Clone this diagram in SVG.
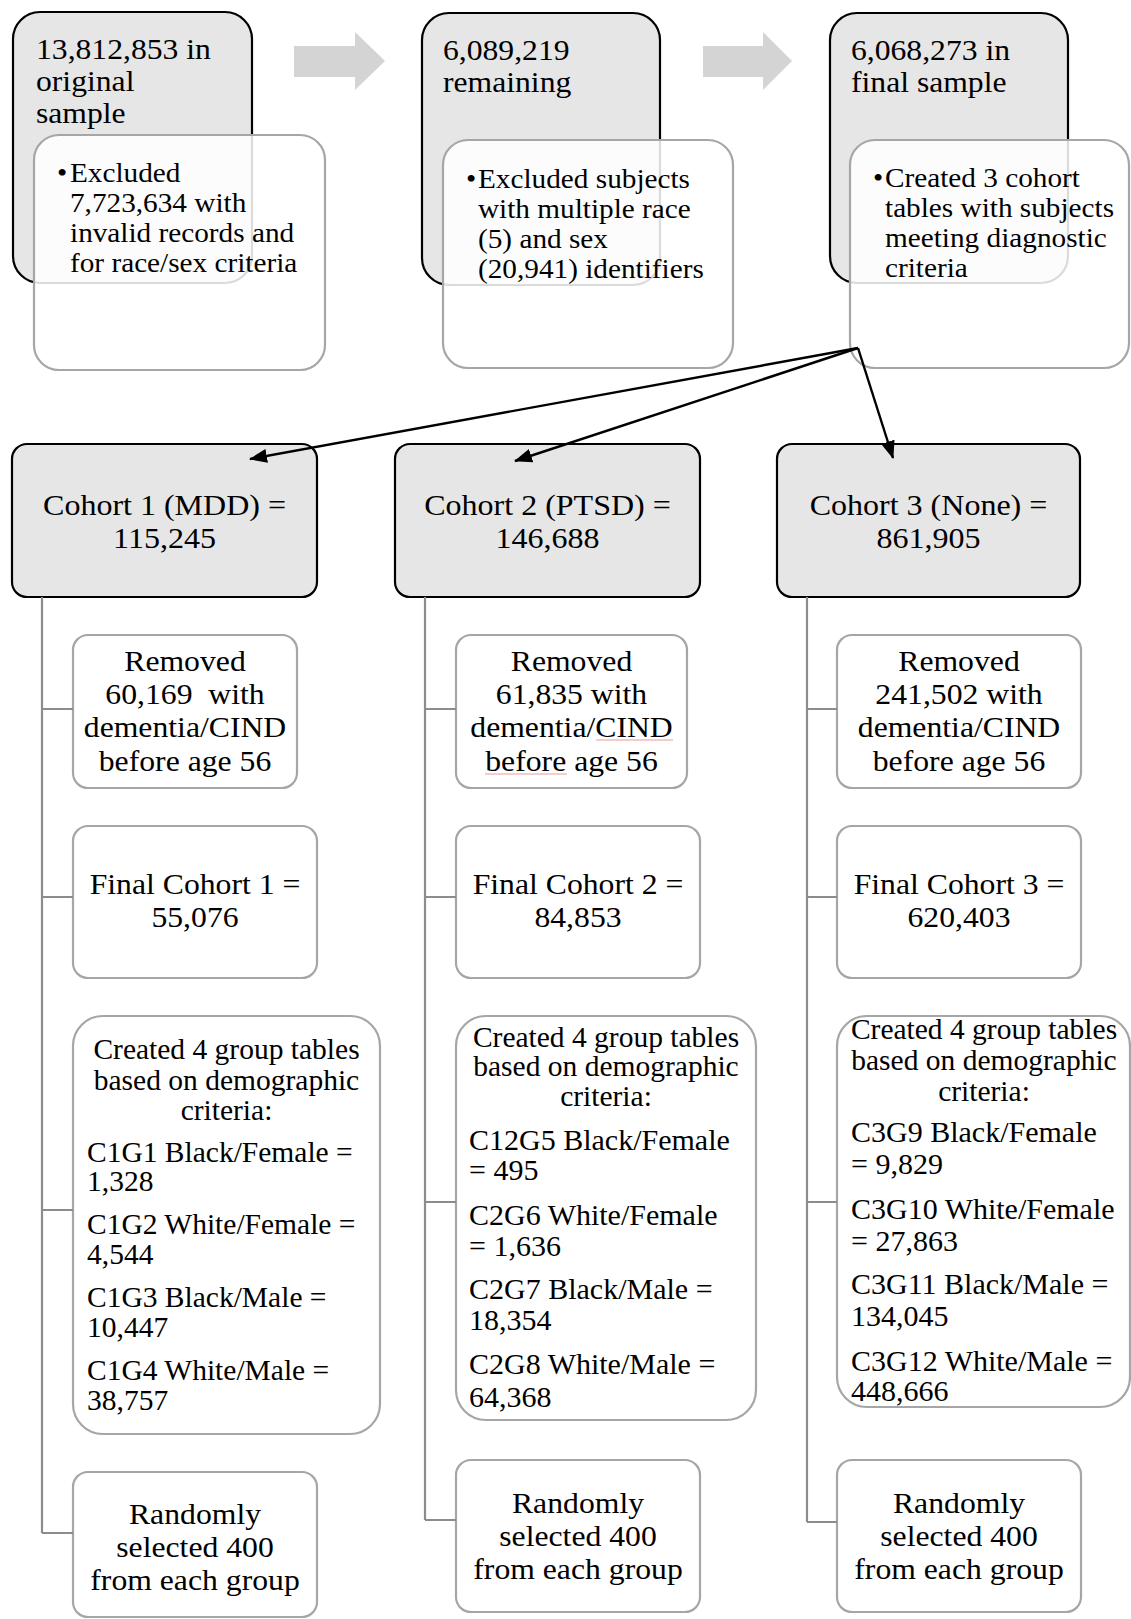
<svg xmlns="http://www.w3.org/2000/svg" width="1131" height="1619" viewBox="0 0 1131 1619">
<defs>
<style>
.t{font-family:"Liberation Serif","Times New Roman",serif;fill:#000}
.top{font-size:30px}
.bul{font-size:28px}
.coh{font-size:30px}
.box{font-size:29.5px}
.grp{font-size:29.5px}
.g30{font-size:30px}
.gray{fill:#e6e6e6;stroke:#000;stroke-width:2.2}
.over{fill:#fff;fill-opacity:0.86;stroke:#a6a6a6;stroke-width:2.2}
.child{fill:#fff;stroke:#a6a6a6;stroke-width:2.2}
.tree{fill:none;stroke:#8c8c8c;stroke-width:2.2}
.blk{stroke:#000;stroke-width:2.4;fill:none}
.block{fill:#d4d4d4}
.sq{stroke:#e99a9a;stroke-width:1.2;fill:none}
</style>
<marker id="ah" markerUnits="userSpaceOnUse" markerWidth="18" markerHeight="14" refX="17" refY="7" orient="auto">
<path d="M0,0 L18,7 L0,14 z" fill="#000"/>
</marker>
</defs>
<rect width="1131" height="1619" fill="#fff"/>

<g id="node-original">
<rect class="gray" x="13" y="12" width="239" height="271" rx="27"/>
<text class="t top" transform="matrix(1.055 0 0 1 36 0)"><tspan x="0" y="59">13,812,853 in</tspan><tspan x="0" y="91">original</tspan><tspan x="0" y="123">sample</tspan></text>
</g>
<g id="node-excluded1">
<rect class="over" x="34" y="135" width="291" height="235" rx="25"/>
<text class="t bul" transform="matrix(1.045 0 0 1 57 0)"><tspan x="0" y="182">•</tspan></text>
<text class="t bul" transform="matrix(1.045 0 0 1 70 0)"><tspan x="0" y="182">Excluded</tspan><tspan x="0" y="212">7,723,634 with</tspan><tspan x="0" y="242">invalid records and</tspan><tspan x="0" y="272">for race/sex criteria</tspan></text>
</g>

<g id="node-remaining">
<rect class="gray" x="422" y="13" width="238" height="272" rx="27"/>
<text class="t top" transform="matrix(1.055 0 0 1 443 0)"><tspan x="0" y="60">6,089,219</tspan><tspan x="0" y="92">remaining</tspan></text>
</g>
<g id="node-excluded2">
<rect class="over" x="443" y="140" width="290" height="228" rx="25"/>
<text class="t bul" transform="matrix(1.045 0 0 1 466 0)"><tspan x="0" y="188">•</tspan></text>
<text class="t bul" transform="matrix(1.045 0 0 1 478 0)"><tspan x="0" y="188">Excluded subjects</tspan><tspan x="0" y="218">with multiple race</tspan><tspan x="0" y="248">(5) and sex</tspan><tspan x="0" y="278">(20,941) identifiers</tspan></text>
</g>

<g id="node-final">
<rect class="gray" x="830" y="13" width="238" height="270" rx="27"/>
<text class="t top" transform="matrix(1.055 0 0 1 851 0)"><tspan x="0" y="60">6,068,273 in</tspan><tspan x="0" y="92">final sample</tspan></text>
</g>
<g id="node-created3">
<rect class="over" x="850" y="140" width="279" height="228" rx="25"/>
<text class="t bul" transform="matrix(1.045 0 0 1 873 0)"><tspan x="0" y="187">•</tspan></text>
<text class="t bul" transform="matrix(1.045 0 0 1 885 0)"><tspan x="0" y="187">Created 3 cohort</tspan><tspan x="0" y="217">tables with subjects</tspan><tspan x="0" y="247">meeting diagnostic</tspan><tspan x="0" y="277">criteria</tspan></text>
</g>

<g id="node-cohort1">
<rect class="gray" x="12" y="444" width="305" height="153" rx="15"/>
<text class="t coh" text-anchor="middle" transform="matrix(1.067 0 0 1 164.5 0)"><tspan x="0" y="515">Cohort 1 (MDD) =</tspan><tspan x="0" y="548">115,245</tspan></text>
</g>
<g id="node-cohort2">
<rect class="gray" x="395" y="444" width="305" height="153" rx="15"/>
<text class="t coh" text-anchor="middle" transform="matrix(1.067 0 0 1 547.5 0)"><tspan x="0" y="515">Cohort 2 (PTSD) =</tspan><tspan x="0" y="548">146,688</tspan></text>
</g>
<g id="node-cohort3">
<rect class="gray" x="777" y="444" width="303" height="153" rx="15"/>
<text class="t coh" text-anchor="middle" transform="matrix(1.067 0 0 1 928.5 0)"><tspan x="0" y="515">Cohort 3 (None) =</tspan><tspan x="0" y="548">861,905</tspan></text>
</g>

<g id="node-removed1">
<rect class="child" x="73" y="635" width="224" height="153" rx="15"/>
<text class="t box" text-anchor="middle" transform="matrix(1.075 0 0 1 185 0)"><tspan x="0" y="671">Removed</tspan><tspan x="0" y="704">60,169&#160; with</tspan><tspan x="0" y="737">dementia/CIND</tspan><tspan x="0" y="771">before age 56</tspan></text>
</g>
<g id="node-removed2">
<rect class="child" x="456" y="635" width="231" height="153" rx="15"/>
<text class="t box" text-anchor="middle" transform="matrix(1.075 0 0 1 571.5 0)"><tspan x="0" y="671">Removed</tspan><tspan x="0" y="704">61,835 with</tspan><tspan x="0" y="737">dementia/CIND</tspan><tspan x="0" y="771">before age 56</tspan></text>
<path class="sq" d="M596,740 H673 M485,774 H567"/>
</g>
<g id="node-removed3">
<rect class="child" x="837" y="635" width="244" height="153" rx="15"/>
<text class="t box" text-anchor="middle" transform="matrix(1.075 0 0 1 959 0)"><tspan x="0" y="671">Removed</tspan><tspan x="0" y="704">241,502 with</tspan><tspan x="0" y="737">dementia/CIND</tspan><tspan x="0" y="771">before age 56</tspan></text>
</g>

<g id="node-final1">
<rect class="child" x="73" y="826" width="244" height="152" rx="15"/>
<text class="t box" text-anchor="middle" transform="matrix(1.075 0 0 1 195 0)"><tspan x="0" y="894">Final Cohort 1 =</tspan><tspan x="0" y="927">55,076</tspan></text>
</g>
<g id="node-final2">
<rect class="child" x="456" y="826" width="244" height="152" rx="15"/>
<text class="t box" text-anchor="middle" transform="matrix(1.075 0 0 1 578 0)"><tspan x="0" y="894">Final Cohort 2 =</tspan><tspan x="0" y="927">84,853</tspan></text>
</g>
<g id="node-final3">
<rect class="child" x="837" y="826" width="244" height="152" rx="15"/>
<text class="t box" text-anchor="middle" transform="matrix(1.075 0 0 1 959 0)"><tspan x="0" y="894">Final Cohort 3 =</tspan><tspan x="0" y="927">620,403</tspan></text>
</g>

<g id="node-groups1">
<rect class="child" x="73" y="1016" width="307" height="418" rx="30"/>
<text class="t grp" text-anchor="middle"><tspan x="226.5" y="1059">Created 4 group tables</tspan><tspan x="226.5" y="1090">based on demographic</tspan><tspan x="226.5" y="1120">criteria:</tspan></text>
<text class="t grp"><tspan x="87" y="1162">C1G1 Black/Female =</tspan><tspan x="87" y="1191">1,328</tspan><tspan x="87" y="1234">C1G2 White/Female =</tspan><tspan x="87" y="1264">4,544</tspan><tspan x="87" y="1307">C1G3 Black/Male =</tspan><tspan x="87" y="1337">10,447</tspan><tspan x="87" y="1380">C1G4 White/Male =</tspan><tspan x="87" y="1410">38,757</tspan></text>
</g>
<g id="node-groups2">
<rect class="child" x="456" y="1016" width="300" height="404" rx="30"/>
<text class="t grp" text-anchor="middle"><tspan x="606" y="1047">Created 4 group tables</tspan><tspan x="606" y="1076">based on demographic</tspan><tspan x="606" y="1106">criteria:</tspan></text>
<text class="t g30"><tspan x="469" y="1150">C12G5 Black/Female</tspan><tspan x="469" y="1180">= 495</tspan><tspan x="469" y="1225">C2G6 White/Female</tspan><tspan x="469" y="1256">= 1,636</tspan><tspan x="469" y="1299">C2G7 Black/Male =</tspan><tspan x="469" y="1330">18,354</tspan><tspan x="469" y="1374">C2G8 White/Male =</tspan><tspan x="469" y="1407">64,368</tspan></text>
</g>
<g id="node-groups3">
<rect class="child" x="837" y="1016" width="293" height="391" rx="30"/>
<text class="t grp" text-anchor="middle"><tspan x="984" y="1039">Created 4 group tables</tspan><tspan x="984" y="1070">based on demographic</tspan><tspan x="984" y="1101">criteria:</tspan></text>
<text class="t g30"><tspan x="851" y="1142">C3G9 Black/Female</tspan><tspan x="851" y="1174">= 9,829</tspan><tspan x="851" y="1219">C3G10 White/Female</tspan><tspan x="851" y="1251">= 27,863</tspan><tspan x="851" y="1294">C3G11 Black/Male =</tspan><tspan x="851" y="1326">134,045</tspan><tspan x="851" y="1371">C3G12 White/Male =</tspan><tspan x="851" y="1401">448,666</tspan></text>
</g>

<g id="node-random1">
<rect class="child" x="73" y="1472" width="244" height="145" rx="15"/>
<text class="t box" text-anchor="middle" transform="matrix(1.075 0 0 1 195 0)"><tspan x="0" y="1524">Randomly</tspan><tspan x="0" y="1557">selected 400</tspan><tspan x="0" y="1590">from each group</tspan></text>
</g>
<g id="node-random2">
<rect class="child" x="456" y="1460" width="244" height="152" rx="15"/>
<text class="t box" text-anchor="middle" transform="matrix(1.075 0 0 1 578 0)"><tspan x="0" y="1513">Randomly</tspan><tspan x="0" y="1546">selected 400</tspan><tspan x="0" y="1579">from each group</tspan></text>
</g>
<g id="node-random3">
<rect class="child" x="837" y="1460" width="244" height="152" rx="15"/>
<text class="t box" text-anchor="middle" transform="matrix(1.075 0 0 1 959 0)"><tspan x="0" y="1513">Randomly</tspan><tspan x="0" y="1546">selected 400</tspan><tspan x="0" y="1579">from each group</tspan></text>
</g>

<g id="connectors">
<polygon class="block" points="294,46 355,46 355,32 385,61 355,90 355,77 294,77"/>
<polygon class="block" points="703,46 763,46 763,32 792,61 763,90 763,77 703,77"/>
<path class="tree" d="M42,597 V1533 M42,709 H73 M42,897 H73 M42,1210 H73 M42,1533 H73"/>
<path class="tree" d="M425,597 V1520 M425,709 H456 M425,897 H456 M425,1202 H456 M425,1520 H456"/>
<path class="tree" d="M807,597 V1522 M807,709 H837 M807,897 H837 M807,1202 H837 M807,1522 H837"/>
<line class="blk" x1="858" y1="348" x2="250" y2="459" marker-end="url(#ah)"/>
<line class="blk" x1="858" y1="348" x2="515" y2="461" marker-end="url(#ah)"/>
<line class="blk" x1="858" y1="348" x2="893" y2="458" marker-end="url(#ah)"/>
</g>
</svg>
